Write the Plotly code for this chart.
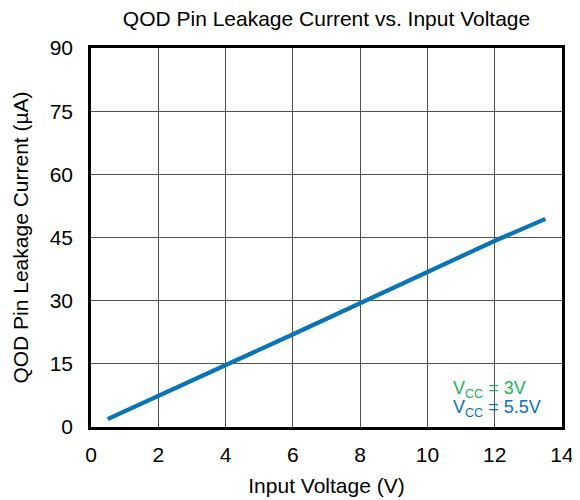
import plotly.graph_objects as go

input_voltage = [0.5, 2, 4, 6, 8, 10, 12, 13.5]
leak_vcc_3v = [1.9, 7.3, 14.7, 22.0, 29.4, 36.8, 44.2, 49.4]
leak_vcc_5v5 = [1.9, 7.3, 14.7, 22.0, 29.4, 36.8, 44.2, 49.4]

GREEN = "#1cb454"
BLUE = "#0b72bd"
FONT = "Liberation Sans"

fig = go.Figure()
fig.add_trace(go.Scatter(x=input_voltage, y=leak_vcc_3v, mode="lines",
                         line=dict(color=GREEN, width=4), name="VCC = 3V"))
fig.add_trace(go.Scatter(x=input_voltage, y=leak_vcc_5v5, mode="lines",
                         line=dict(color=BLUE, width=4), name="VCC = 5.5V"))

axis_common = dict(
    showgrid=True, gridcolor="#505050", gridwidth=1,
    showline=True, linecolor="black", linewidth=2.5, mirror=True,
    ticks="", zeroline=False,
    tickfont=dict(size=21, color="black", family=FONT),
)

fig.update_xaxes(range=[0, 14], dtick=2, ticklabelstandoff=7,
                 title=dict(text="Input Voltage (V)", font=dict(size=21, family=FONT, color="black"), standoff=14),
                 **axis_common)
fig.update_yaxes(range=[0, 90], dtick=15, ticklabelstandoff=11,
                 title=dict(text="QOD Pin Leakage Current (µA)", font=dict(size=21, family=FONT, color="black"), standoff=16),
                 **axis_common)

fig.add_annotation(x=0.764, y=0.098, xref="paper", yref="paper", xanchor="left", yanchor="middle",
                   text="V<sub>CC</sub>&nbsp;= 3V", showarrow=False, align="left",
                   font=dict(size=18, color=GREEN, family=FONT))
fig.add_annotation(x=0.764, y=0.048, xref="paper", yref="paper", xanchor="left", yanchor="middle",
                   text="V<sub>CC</sub>&nbsp;= 5.5V", showarrow=False, align="left",
                   font=dict(size=18, color=BLUE, family=FONT))

fig.update_layout(
    width=572, height=492,
    margin=dict(l=83, r=18, t=40, b=73, autoexpand=False),
    paper_bgcolor="white", plot_bgcolor="white",
    showlegend=False,
    title=dict(text="QOD Pin Leakage Current vs. Input Voltage", x=0.5, xref="paper", xanchor="center",
               y=1 - 11 / 492, yref="container", yanchor="middle",
               font=dict(size=21, family=FONT, color="black")),
)

fig.write_html("out.html")
